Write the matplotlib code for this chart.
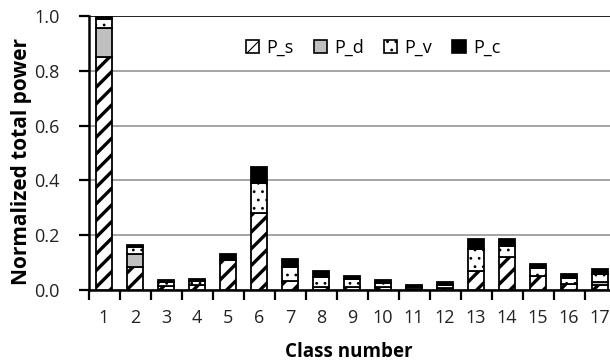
import numpy as np
import matplotlib
matplotlib.use("Agg")
import matplotlib.pyplot as plt

# ---------------- data ----------------
classes = [str(i) for i in range(1, 18)]
p_s = [0.850, 0.085, 0.015, 0.018, 0.110, 0.280, 0.033, 0.012, 0.010, 0.010, 0.004, 0.006, 0.070, 0.120, 0.052, 0.022, 0.020]
p_d = [0.105, 0.045, 0.000, 0.000, 0.000, 0.000, 0.000, 0.000, 0.000, 0.000, 0.000, 0.000, 0.000, 0.000, 0.000, 0.000, 0.010]
p_v = [0.035, 0.028, 0.014, 0.016, 0.000, 0.110, 0.051, 0.037, 0.030, 0.015, 0.006, 0.014, 0.080, 0.040, 0.027, 0.023, 0.030]
p_c = [0.005, 0.008, 0.007, 0.007, 0.021, 0.059, 0.029, 0.021, 0.012, 0.013, 0.008, 0.008, 0.037, 0.027, 0.017, 0.012, 0.018]

plt.rcParams['font.family'] = ['Open Sans', 'DejaVu Sans']


def set_hatch_lw(container, lw):
    # 3.10 有逐个 patch 的 hatch 线宽
    for p in container.patches:
        if hasattr(p, 'set_hatch_linewidth'):
            p.set_hatch_linewidth(lw)


fig = plt.figure(figsize=(6.10, 3.62), dpi=100)
ax = fig.add_axes([88.5 / 610, 1 - 290 / 362, 527 / 610, 274 / 362])

x = np.arange(len(classes))
w = 0.5
ps = np.array(p_s)
pd_ = np.array(p_d)
pv = np.array(p_v)
pc = np.array(p_c)

plt.rcParams['hatch.linewidth'] = 2.4
b1 = ax.bar(x, ps, w, color='white', edgecolor='black', hatch='//', linewidth=1.3, label='P_s', zorder=3)
set_hatch_lw(b1, 2.4)
b2 = ax.bar(x, pd_, w, bottom=ps, color='#c0c0c0', edgecolor='black', linewidth=1.3, label='P_d', zorder=3)
plt.rcParams['hatch.linewidth'] = 0.8
b3 = ax.bar(x, pv, w, bottom=ps + pd_, color='white', edgecolor='black', hatch='..', linewidth=1.3, label='P_v', zorder=3)
set_hatch_lw(b3, 0.8)
b4 = ax.bar(x, pc, w, bottom=ps + pd_ + pv, color='black', edgecolor='black', linewidth=1.3, label='P_c', zorder=3)

ax.set_xlim(-0.5, len(classes) - 0.5)
ax.set_ylim(0, 1.0)
yt = np.arange(0, 1.01, 0.2)
ax.set_yticks(yt)
ax.set_yticklabels([f"{v:.1f}" for v in yt], fontsize=13, color='#222222')
ax.set_xticks(x)
ax.set_xticklabels(classes, fontsize=13, color='#222222')
ax.tick_params(axis='x', length=0, pad=14)
ax.set_xticks(np.arange(-0.5, len(classes), 1), minor=True)
ax.tick_params(axis='x', which='minor', length=7, width=1.6, direction='out')
ax.tick_params(axis='y', length=7, width=1.6, direction='out', pad=14)

ax.yaxis.grid(True, color='#8c8c8c', linewidth=1.1, zorder=0)
ax.set_axisbelow(True)
for s in ['top', 'right']:
    ax.spines[s].set_visible(False)
ax.spines['left'].set_linewidth(1.8)
ax.spines['bottom'].set_linewidth(1.8)
ax.axhline(1.0, color='#222222', linewidth=1.4, zorder=1)

ax.set_ylabel('Normalized total power', fontsize=15, fontweight='bold', va='center')
ax.yaxis.set_label_coords(-0.128, 0.47)
ax.set_xlabel('Class number', fontsize=13.5, fontweight='bold', va='center')
ax.xaxis.set_label_coords(0.494, -0.226)

leg = ax.legend(loc='center', bbox_to_anchor=(0.54, 0.883), ncol=4, frameon=False,
                fontsize=13, handlelength=0.75, handleheight=0.75, handletextpad=0.4,
                columnspacing=1.1, borderpad=0)
for h in leg.legend_handles:
    h.set_linewidth(1.2)

fig.savefig('out.png', dpi=100)
